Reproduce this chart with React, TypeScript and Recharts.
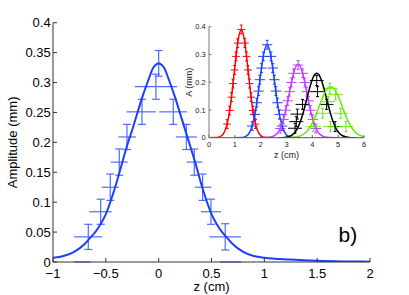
import React from 'react';
import { ComposedChart, Line, Scatter, XAxis, YAxis, ErrorBar } from 'recharts';

// ---------- main chart data ----------
const mainXTicks = [-1, -0.5, 0, 0.5, 1, 1.5, 2];
const mainYTicks = [0, 0.05, 0.1, 0.15, 0.2, 0.25, 0.3, 0.35, 0.4];

const mainCurveZ = [-1, -0.9, -0.8, -0.7, -0.65, -0.6, -0.55, -0.5, -0.45, -0.4, -0.35, -0.3, -0.25, -0.2, -0.15, -0.1, -0.05, 0, 0.05, 0.1, 0.15, 0.2, 0.25, 0.3, 0.35, 0.4, 0.45, 0.5, 0.55, 0.6, 0.65, 0.7, 0.8, 0.9, 1.0, 1.25, 1.5, 1.75, 2.0];
const mainCurveA = [0.007, 0.010, 0.017, 0.030, 0.040, 0.050, 0.063, 0.080, 0.104, 0.132, 0.163, 0.194, 0.221, 0.250, 0.278, 0.303, 0.325, 0.332, 0.325, 0.303, 0.278, 0.250, 0.221, 0.193, 0.164, 0.132, 0.104, 0.080, 0.063, 0.050, 0.040, 0.030, 0.017, 0.010, 0.007, 0.004, 0.002, 0.001, 0.0005];

// [z, amplitude, zMinus, zPlus, amplitudeErr]
const mainPoints = [
  [-0.666, 0.042, 0.134, 0.132, 0.021],
  [-0.549, 0.084, 0.108, 0.104, 0.021],
  [-0.458, 0.125, 0.081, 0.083, 0.022],
  [-0.373, 0.167, 0.081, 0.080, 0.022],
  [-0.300, 0.209, 0.082, 0.085, 0.021],
  [-0.158, 0.251, 0.145, 0.132, 0.021],
  [-0.026, 0.293, 0.201, 0.202, 0.021],
  [0.0, 0.332, 0.02, 0.02, 0.0215],
  [0.138, 0.251, 0.132, 0.132, 0.021],
  [0.262, 0.209, 0.100, 0.100, 0.021],
  [0.337, 0.167, 0.072, 0.076, 0.022],
  [0.416, 0.125, 0.073, 0.084, 0.022],
  [0.495, 0.084, 0.095, 0.094, 0.021],
  [0.630, 0.042, 0.151, 0.149, 0.022],
  [-0.72, 0, 0.08, 0.077, 0],
  [0.68, 0, 0.10, 0.10, 0],
];

// ---------- inset data ----------
const insetXTicks = [0, 1, 2, 3, 4, 5, 6];
const insetYTicks = [0, 0.1, 0.2, 0.3, 0.4];

const redCurveX = [0, 0.25, 0.375, 0.5, 0.625, 0.75, 0.875, 1, 1.125, 1.25, 1.375, 1.5, 1.625, 1.75, 1.875, 2, 2.125, 2.25, 2.5];
const redCurveA = [0, 0.0004, 0.002, 0.008, 0.027, 0.070, 0.149, 0.254, 0.350, 0.390, 0.350, 0.254, 0.149, 0.070, 0.027, 0.008, 0.002, 0.0004, 0];
const blueCurveX = [1.0, 1.25, 1.375, 1.5, 1.625, 1.75, 1.875, 2.0, 2.125, 2.25, 2.375, 2.5, 2.625, 2.75, 2.875, 3.0, 3.125, 3.25, 3.5];
const blueCurveA = [0, 0.0007, 0.003, 0.010, 0.030, 0.072, 0.141, 0.228, 0.304, 0.335, 0.304, 0.228, 0.141, 0.072, 0.030, 0.010, 0.003, 0.0007, 0];
const magentaCurveX = [1.95, 2.2, 2.45, 2.575, 2.7, 2.825, 2.95, 3.075, 3.2, 3.325, 3.45, 3.575, 3.7, 3.825, 3.95, 4.075, 4.2, 4.325, 4.45, 4.7, 4.95];
const magentaCurveA = [0, 0.0003, 0.0035, 0.010, 0.023, 0.049, 0.090, 0.144, 0.202, 0.248, 0.265, 0.248, 0.202, 0.144, 0.090, 0.049, 0.023, 0.010, 0.0035, 0.0003, 0];
const blackCurveX = [2.67, 2.92, 3.17, 3.295, 3.42, 3.545, 3.67, 3.795, 3.92, 4.045, 4.17, 4.295, 4.42, 4.545, 4.67, 4.795, 4.92, 5.045, 5.17, 5.42, 5.67];
const blackCurveA = [0, 0.001, 0.007, 0.016, 0.033, 0.060, 0.098, 0.143, 0.187, 0.220, 0.232, 0.220, 0.187, 0.143, 0.098, 0.060, 0.033, 0.016, 0.007, 0.001, 0];
const greenCurveX = [2.96, 3.21, 3.46, 3.71, 3.835, 3.96, 4.085, 4.21, 4.335, 4.46, 4.585, 4.71, 4.835, 4.96, 5.085, 5.21, 5.335, 5.46, 5.585, 5.71, 5.96, 6.0];
const greenCurveA = [0, 0.001, 0.004, 0.016, 0.028, 0.046, 0.070, 0.099, 0.130, 0.158, 0.177, 0.184, 0.177, 0.158, 0.130, 0.099, 0.070, 0.046, 0.028, 0.016, 0.004, 0.003];

// [z, A]
const redPoints = [[0.70, 0.049], [0.80, 0.098], [0.87, 0.146], [0.93, 0.195], [0.99, 0.244], [1.045, 0.293], [1.11, 0.341], [1.25, 0.39], [1.39, 0.341], [1.455, 0.293], [1.51, 0.244], [1.57, 0.195], [1.63, 0.146], [1.70, 0.098], [1.80, 0.049]];
const bluePoints = [[1.67, 0.042], [1.78, 0.084], [1.85, 0.126], [1.92, 0.168], [1.97, 0.209], [2.03, 0.251], [2.10, 0.293], [2.25, 0.335], [2.40, 0.293], [2.47, 0.251], [2.53, 0.209], [2.59, 0.168], [2.65, 0.126], [2.73, 0.084], [2.83, 0.042]];
const magentaPoints = [[2.76, 0.033], [2.88, 0.066], [2.97, 0.099], [3.05, 0.133], [3.12, 0.166], [3.19, 0.199], [3.27, 0.232], [3.45, 0.262], [3.63, 0.232], [3.71, 0.199], [3.78, 0.166], [3.85, 0.133], [3.93, 0.099], [4.02, 0.066], [4.14, 0.033]];
const blackPoints = [[3.33, 0.034], [3.38, 0.058], [3.42, 0.085], [3.62, 0.120], [4.20, 0.166], [4.17, 0.206], [4.55, 0.120], [4.88, 0.040]];
const greenPoints = [[4.05, 0.040], [4.40, 0.088], [4.62, 0.130], [4.68, 0.178], [4.90, 0.155], [5.10, 0.088], [5.30, 0.040], [4.70, 0.040]];

// ---------- build tables ----------
const mainCurve = mainCurveZ.map((x, i) => ({ x, y: mainCurveA[i] }));
const mainErr = mainPoints.map(([x, y, zm, zp, ye]) => ({ x, y, ex: [zm, zp], ey: ye }));
const curveTable = (xs: number[], ys: number[]) => xs.map((x, i) => ({ x, y: ys[i] }));
const pointTable = (pts: number[][], ex: number, ey: number) => pts.map(([x, y]) => ({ x, y, ex, ey }));

const insetSeries = [
  { color: '#ff0000', curve: curveTable(redCurveX, redCurveA), pts: pointTable(redPoints, 0.15, 0.016) },
  { color: '#2040ff', curve: curveTable(blueCurveX, blueCurveA), pts: pointTable(bluePoints, 0.2, 0.016) },
  { color: '#c040ff', curve: curveTable(magentaCurveX, magentaCurveA), pts: pointTable(magentaPoints, 0.2, 0.016) },
  { color: '#000000', curve: curveTable(blackCurveX, blackCurveA), pts: pointTable(blackPoints, 0.27, 0.018) },
  { color: '#66ee00', curve: curveTable(greenCurveX, greenCurveA), pts: pointTable(greenPoints, 0.28, 0.018) },
];

const FONT = '"Liberation Sans", Arial, Helvetica, sans-serif';
const AXIS = '#333333';
const NoShape = () => <g />;
const fmt = (v: number) => (v < 0 ? '\u2212' + String(-v) : String(v));

export default function App() {
  return (
    <div style={{ position: 'absolute', left: 0, top: 0, width: 409, height: 295, background: '#fff' }}>
      <div style={{ position: 'absolute', left: 0, top: 0 }}>
        <ComposedChart width={409} height={295} margin={{ top: 22.7, right: 39, bottom: 0, left: 0 }}>
          <XAxis dataKey="x" type="number" domain={[-1, 2]} ticks={mainXTicks} allowDataOverflow
            height={33} tickSize={-4} tickMargin={10.3} tickFormatter={fmt}
            axisLine={{ stroke: AXIS }} tickLine={{ stroke: AXIS }}
            tick={{ fontSize: 13, fill: '#000', fontFamily: FONT }} interval={0} />
          <XAxis xAxisId="top" orientation="top" dataKey="x" type="number" domain={[-1, 2]} ticks={mainXTicks} allowDataOverflow
            height={0} tickSize={-4} tick={false} axisLine={{ stroke: AXIS }} tickLine={{ stroke: AXIS }} interval={0} />
          <YAxis type="number" domain={[0, 0.4]} ticks={mainYTicks} allowDataOverflow width={53}
            tickSize={-4} tickMargin={6.3} tickFormatter={fmt}
            axisLine={{ stroke: AXIS }} tickLine={{ stroke: AXIS }}
            tick={{ fontSize: 13, fill: '#000', fontFamily: FONT }} interval={0} />
          <YAxis yAxisId="right" orientation="right" type="number" domain={[0, 0.4]} ticks={mainYTicks} allowDataOverflow width={0}
            tickSize={-4} tick={false} axisLine={{ stroke: AXIS }} tickLine={{ stroke: AXIS }} interval={0} />
          <Scatter data={mainErr} dataKey="y" shape={NoShape} isAnimationActive={false}>
            <ErrorBar dataKey="ey" direction="y" width={4} stroke="#4d6cff" strokeWidth={1.2} />
            <ErrorBar dataKey="ex" direction="x" width={0} stroke="#4d6cff" strokeWidth={1.2} />
          </Scatter>
          <Line data={mainCurve} dataKey="y" type="monotone" stroke="#1f3dff" strokeWidth={2} dot={false} isAnimationActive={false} />
        </ComposedChart>
      </div>

      <div style={{ position: 'absolute', left: 178, top: 16 }}>
        <ComposedChart width={192} height={148} margin={{ top: 10.7, right: 6, bottom: 0, left: 0 }}>
          <XAxis dataKey="x" type="number" domain={[0, 6]} ticks={insetXTicks} allowDataOverflow
            height={26.3} tickSize={-2.5} tickMargin={6.8}
            axisLine={{ stroke: '#555' }} tickLine={{ stroke: '#555' }}
            tick={{ fontSize: 7.5, fill: '#222', fontFamily: FONT }} interval={0} />
          <XAxis xAxisId="top" orientation="top" dataKey="x" type="number" domain={[0, 6]} ticks={insetXTicks} allowDataOverflow
            height={0} tickSize={-2.5} tick={false} axisLine={{ stroke: '#333' }} tickLine={{ stroke: '#333' }} interval={0} />
          <YAxis type="number" domain={[0, 0.4]} ticks={insetYTicks} allowDataOverflow width={31}
            tickSize={-2.5} tickMargin={5.8}
            axisLine={{ stroke: '#777' }} tickLine={{ stroke: '#777' }}
            tick={{ fontSize: 7.5, fill: '#222', fontFamily: FONT }} interval={0} />
          <YAxis yAxisId="right" orientation="right" type="number" domain={[0, 0.4]} ticks={insetYTicks} allowDataOverflow width={0}
            tickSize={-2.5} tick={false} axisLine={{ stroke: '#777' }} tickLine={{ stroke: '#777' }} interval={0} />
          {insetSeries.map((s, i) => (
            <Scatter key={'p' + i} data={s.pts} dataKey="y" shape={NoShape} isAnimationActive={false}>
              <ErrorBar dataKey="ey" direction="y" width={1.5} stroke={s.color} strokeWidth={1} />
              <ErrorBar dataKey="ex" direction="x" width={0} stroke={s.color} strokeWidth={1} />
            </Scatter>
          ))}
          {insetSeries.map((s, i) => (
            <Line key={'c' + i} data={s.curve} dataKey="y" type="monotone" stroke={s.color} strokeWidth={1.5} dot={false} isAnimationActive={false} />
          ))}
        </ComposedChart>
      </div>

      <svg width={409} height={295} style={{ position: 'absolute', left: 0, top: 0, pointerEvents: 'none' }}>
        <text x={17.3} y={142.4} transform="rotate(-90 17.3 142.4)" textAnchor="middle" fontSize={13} fontFamily={FONT} fill="#000">Amplitude (mm)</text>
        <text x={211.5} y={291} textAnchor="middle" fontSize={13} fontFamily={FONT} fill="#000">z (cm)</text>
        <text x={338.5} y={241.5} fontSize={21} fontFamily={FONT} fill="#000">b)</text>
        <text x={192.5} y={82.2} transform="rotate(-90 192.5 82.2)" textAnchor="middle" fontSize={9} fontFamily={FONT} fill="#222">A (mm)</text>
        <text x={286.5} y={158.3} textAnchor="middle" fontSize={9} fontFamily={FONT} fill="#222">z (cm)</text>
      </svg>
    </div>
  );
}
